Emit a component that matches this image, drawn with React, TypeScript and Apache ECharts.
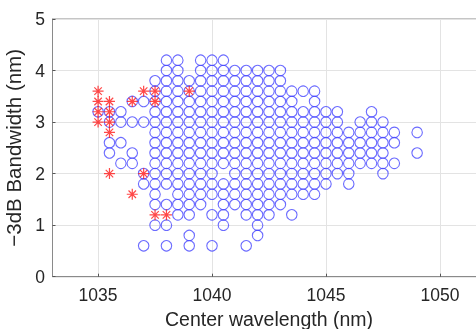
import React, { useEffect, useRef } from "react";
import * as echarts from "echarts";

// Blue circles: center wavelengths (nm) at each -3dB bandwidth level (nm)
const bandwidthLevels = [4.2, 4.0, 3.8, 3.6, 3.4, 3.2, 3.0, 2.8, 2.6, 2.4, 2.2, 2.0, 1.8, 1.6, 1.4, 1.2, 1.0, 0.8, 0.6];

const r42 = [1038, 1038.5, 1039.5, 1040, 1040.5];
const r40 = [1038, 1038.5, 1039.5, 1040, 1040.5, 1041, 1041.5, 1042, 1042.5, 1043];
const r38 = [1037.5, 1038, 1038.5, 1039, 1039.5, 1040, 1040.5, 1041, 1041.5, 1042, 1042.5, 1043];
const r36 = [1037.5, 1038, 1038.5, 1039, 1039.5, 1040, 1040.5, 1041, 1041.5, 1042, 1042.5, 1043, 1043.5, 1044, 1044.5];
const r34 = [1036.5, 1037, 1037.5, 1038, 1038.5, 1039, 1039.5, 1040, 1040.5, 1041, 1041.5, 1042, 1042.5, 1043, 1043.5, 1044.5];
const r32 = [1035, 1035.5, 1036, 1037.5, 1038, 1038.5, 1039, 1039.5, 1040, 1040.5, 1041, 1041.5, 1042, 1042.5, 1043, 1043.5, 1044, 1044.5, 1045, 1045.5, 1047];
const r30 = [1035.5, 1036, 1036.5, 1037, 1037.5, 1038, 1038.5, 1039, 1039.5, 1040, 1040.5, 1041, 1041.5, 1042, 1042.5, 1043, 1043.5, 1044, 1044.5, 1045, 1045.5, 1046.5, 1047, 1047.5];
const r28 = [1037.5, 1038, 1038.5, 1039, 1039.5, 1040, 1040.5, 1041, 1041.5, 1042, 1042.5, 1043, 1043.5, 1044, 1044.5, 1045, 1045.5, 1046, 1046.5, 1047, 1047.5, 1048, 1049];
const r26 = [1035.5, 1036, 1037.5, 1038, 1038.5, 1039, 1039.5, 1040, 1040.5, 1041, 1041.5, 1042, 1042.5, 1043, 1043.5, 1044, 1044.5, 1045, 1045.5, 1046, 1046.5, 1047, 1047.5, 1048];
const r24 = [1035.5, 1036.5, 1037.5, 1038, 1038.5, 1039, 1039.5, 1040, 1040.5, 1041, 1041.5, 1042, 1042.5, 1043, 1043.5, 1044, 1044.5, 1045, 1045.5, 1046, 1046.5, 1047, 1047.5, 1049];
const r22 = [1036, 1036.5, 1037.5, 1038, 1038.5, 1039, 1039.5, 1040, 1040.5, 1041, 1041.5, 1042, 1042.5, 1043, 1043.5, 1044, 1044.5, 1045, 1045.5, 1046, 1046.5, 1047, 1047.5, 1048];
const r20 = [1037, 1037.5, 1038, 1038.5, 1039, 1039.5, 1040, 1041, 1041.5, 1042, 1042.5, 1043, 1043.5, 1044, 1044.5, 1045, 1045.5, 1046, 1047.5];
const r18 = [1037, 1037.5, 1038, 1038.5, 1039, 1039.5, 1040, 1040.5, 1041, 1041.5, 1042, 1042.5, 1043, 1043.5, 1044, 1044.5, 1045, 1046];
const r16 = [1037.5, 1038.5, 1039, 1039.5, 1040, 1040.5, 1041, 1041.5, 1042, 1042.5, 1043, 1043.5, 1044, 1044.5];
const r14 = [1037.5, 1038, 1038.5, 1039, 1039.5, 1040.5, 1041, 1041.5, 1042, 1042.5, 1043];
const r12 = [1038.5, 1039, 1040, 1040.5, 1041.5, 1042, 1042.5, 1043.5];
const r10 = [1037.5, 1038, 1040.5, 1042];
const r08 = [1039, 1042];
const r06 = [1037, 1038, 1039, 1040, 1041.5];

const circleRows = [r42, r40, r38, r36, r34, r32, r30, r28, r26, r24, r22, r20, r18, r16, r14, r12, r10, r08, r06];

// Red asterisks
const starWavelength = [1035, 1035, 1035.5, 1035, 1035.5, 1035, 1035.5, 1035.5, 1035.5, 1036.5, 1037, 1037.5, 1037.5, 1039, 1037, 1036.5, 1037.5, 1038];
const starBandwidth = [3.6, 3.4, 3.4, 3.2, 3.2, 3.0, 3.0, 2.8, 2.0, 3.4, 3.6, 3.6, 3.4, 3.6, 2.0, 1.6, 1.2, 1.2];

const xTicks = [1035, 1040, 1045, 1050];

const FONT = "'Liberation Sans', Arial, sans-serif";

export default function App() {
  const ref = useRef<HTMLDivElement>(null);

  useEffect(() => {
    if (!ref.current) return;
    const chart = echarts.init(ref.current, undefined, { renderer: "svg" });

    const circleData: number[][] = [];
    circleRows.forEach((row, i) => {
      row.forEach((x) => circleData.push([x, bandwidthLevels[i]]));
    });
    const starData = starWavelength.map((x, i) => [x, starBandwidth[i]]);

    chart.setOption({
      animation: false,
      grid: {
        left: 52.5,
        top: 19,
        bottom: 52.3,
        right: -9.5,
        containLabel: false,
        outerBoundsMode: "none",
        show: true,
        borderColor: "#8a8a8a",
        borderWidth: 1,
        backgroundColor: "#fff",
      },
      xAxis: {
        type: "value",
        min: 1033,
        max: 1052,
        name: "Center wavelength (nm)",
        nameLocation: "middle",
        nameGap: 29.5,
        nameTextStyle: { fontFamily: FONT, fontSize: 19.5, color: "#262626" },
        axisLine: { show: true, lineStyle: { color: "#8a8a8a", width: 1 } },
        axisTick: { show: true, inside: true, length: 3, customValues: xTicks, lineStyle: { color: "#555" } },
        axisLabel: {
          customValues: xTicks,
          formatter: (v: number) => String(v),
          fontFamily: FONT,
          fontSize: 17.5,
          color: "#262626",
          margin: 9.5,
        },
        splitLine: { show: true, lineStyle: { color: "#e3e3e3", width: 1 } },
      },
      yAxis: {
        type: "value",
        min: 0,
        max: 5,
        interval: 1,
        name: "\u22123dB Bandwidth (nm)",
        nameLocation: "middle",
        nameGap: 21,
        nameTextStyle: { fontFamily: FONT, fontSize: 20.5, color: "#262626" },
        axisLine: { show: true, lineStyle: { color: "#8a8a8a", width: 1 } },
        axisTick: { show: true, inside: true, length: 3, lineStyle: { color: "#555" } },
        axisLabel: { fontFamily: FONT, fontSize: 17.5, color: "#262626", margin: 7.5 },
        splitLine: { show: true, lineStyle: { color: "#e3e3e3", width: 1 } },
      },
      series: [
        {
          type: "scatter",
          data: circleData,
          symbol: "circle",
          symbolSize: 10.5,
          itemStyle: { color: "rgba(0,0,0,0)", borderColor: "#4646ff", borderWidth: 1.1 },
          emphasis: { disabled: true },
        },
        {
          type: "scatter",
          data: starData,
          symbol: "path://M0 5L10 5M5 0L5 10M1.6 1.6L8.4 8.4M8.4 1.6L1.6 8.4",
          symbolSize: 11,
          itemStyle: { color: "rgba(0,0,0,0)", borderColor: "#ff1a1a", borderWidth: 1.2 },
          emphasis: { disabled: true },
        },
      ],
    });

    return () => chart.dispose();
  }, []);

  return (
    <div
      ref={ref}
      style={{ position: "fixed", left: 0, top: 0, width: 476, height: 329, overflow: "hidden" }}
    />
  );
}
